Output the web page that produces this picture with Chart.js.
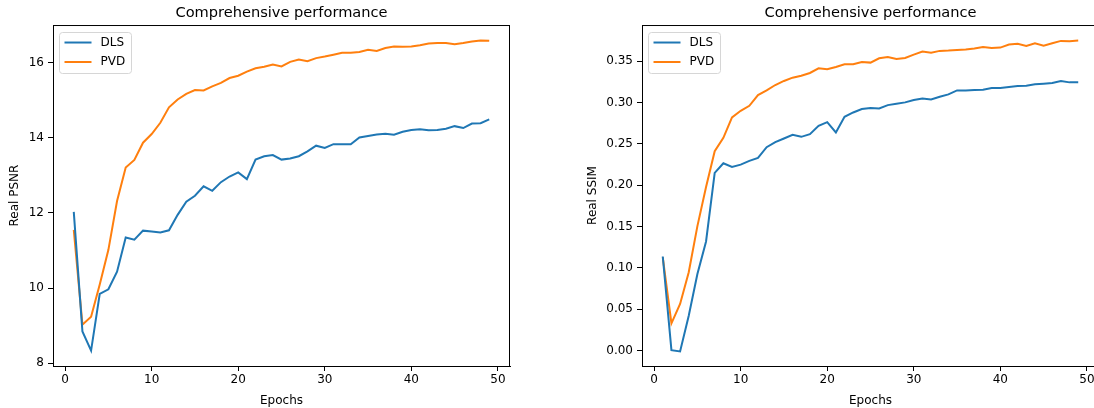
<!DOCTYPE html>
<html>
<head>
<meta charset="utf-8">
<script src="https://cdn.jsdelivr.net/npm/chart.js@4.4.1/dist/chart.umd.min.js"></script>
<style>
  body { margin: 0; background: #fff; overflow: hidden; }
  #wrap { position: relative; width: 1094px; height: 408px; overflow: hidden; }
  canvas { position: absolute; top: 0; }
</style>
</head>
<body>
<div id="wrap">
  <canvas id="psnrChart" width="547" height="408" style="left:0"></canvas>
  <canvas id="ssimChart" width="560" height="408" style="left:547px"></canvas>
</div>
<script>
// ---- data ----
const epochs = [];
for (let e = 1; e <= 49; e++) epochs.push(e);

const psnrDLS = [12.03, 8.85, 8.34, 9.85, 9.97, 10.44, 11.35, 11.29, 11.53, 11.51,
  11.48, 11.54, 11.95, 12.30, 12.46, 12.71, 12.59, 12.82, 12.97, 13.08,
  12.90, 13.42, 13.51, 13.54, 13.42, 13.45, 13.51, 13.64, 13.79, 13.73,
  13.83, 13.83, 13.83, 14.01, 14.05, 14.09, 14.11, 14.08, 14.16, 14.21,
  14.23, 14.20, 14.21, 14.24, 14.31, 14.26, 14.38, 14.39, 14.49];
const psnrPVD = [11.55, 9.03, 9.24, 10.10, 11.02, 12.32, 13.21, 13.41, 13.87, 14.10,
  14.40, 14.81, 15.02, 15.17, 15.27, 15.26, 15.37, 15.46, 15.59, 15.65,
  15.76, 15.85, 15.89, 15.95, 15.90, 16.02, 16.08, 16.04, 16.12, 16.16,
  16.21, 16.26, 16.26, 16.28, 16.34, 16.31, 16.39, 16.43, 16.42, 16.43,
  16.46, 16.51, 16.52, 16.52, 16.49, 16.52, 16.56, 16.59, 16.58];

const ssimDLS = [0.1137, 0.0004, -0.0012, 0.042, 0.0926, 0.1319, 0.2148, 0.2265, 0.2221, 0.2249,
  0.2294, 0.2330, 0.2460, 0.2520, 0.2565, 0.2609, 0.2585, 0.2617, 0.2718, 0.2763,
  0.2638, 0.2828, 0.2880, 0.2921, 0.2933, 0.2929, 0.2969, 0.2985, 0.3002, 0.3030,
  0.3050, 0.3038, 0.3070, 0.3099, 0.3147, 0.3147, 0.3151, 0.3155, 0.3176, 0.3176,
  0.3188, 0.3200, 0.3204, 0.3220, 0.3228, 0.3236, 0.3261, 0.3244, 0.3244];
const ssimPVD = [0.1125, 0.0328, 0.0562, 0.0947, 0.1505, 0.1978, 0.2411, 0.2573, 0.2820, 0.2900,
  0.2961, 0.3091, 0.3147, 0.3212, 0.3261, 0.3301, 0.3325, 0.3358, 0.3414, 0.3402,
  0.3430, 0.3463, 0.3463, 0.3491, 0.3483, 0.3536, 0.3552, 0.3528, 0.3540, 0.3580,
  0.3617, 0.3604, 0.3625, 0.3629, 0.3637, 0.3641, 0.3653, 0.3673, 0.3661, 0.3665,
  0.3701, 0.3710, 0.3685, 0.3718, 0.3689, 0.3718, 0.3746, 0.3742, 0.3750];

const xTicks = [0, 10, 20, 30, 40, 50];
const psnrTicks = [8, 10, 12, 14, 16];
const ssimTicks = [0.00, 0.05, 0.10, 0.15, 0.20, 0.25, 0.30, 0.35];

const seriesNames = ['DLS', 'PVD'];
const seriesColors = ['#1f77b4', '#ff7f0e'];

const FONT = "'DejaVu Sans', sans-serif";

// matplotlib-ish frame + legend inside the axes
const mplPlugin = {
  id: 'mpl',
  afterDraw(chart) {
    const ctx = chart.ctx;
    const a = chart.chartArea;
    ctx.save();
    ctx.strokeStyle = '#000';
    ctx.lineWidth = 1;
    ctx.beginPath();
    ctx.moveTo(a.left, a.top + 0.5);
    ctx.lineTo(a.right, a.top + 0.5);
    ctx.moveTo(a.right - 0.5, a.top);
    ctx.lineTo(a.right - 0.5, a.bottom);
    ctx.stroke();

    // legend box
    const bx = a.left + 6.5, by = a.top + 7.5, bw = 72, bh = 41, r = 3;
    ctx.beginPath();
    ctx.moveTo(bx + r, by);
    ctx.arcTo(bx + bw, by, bx + bw, by + bh, r);
    ctx.arcTo(bx + bw, by + bh, bx, by + bh, r);
    ctx.arcTo(bx, by + bh, bx, by, r);
    ctx.arcTo(bx, by, bx + bw, by, r);
    ctx.closePath();
    ctx.fillStyle = 'rgba(255,255,255,0.8)';
    ctx.fill();
    ctx.strokeStyle = '#d6d6d6';
    ctx.stroke();

    ctx.font = '12px ' + FONT;
    ctx.textBaseline = 'middle';
    chart.data.datasets.forEach((ds, i) => {
      const y = by + 10 + i * 19.5;
      ctx.strokeStyle = ds.borderColor;
      ctx.lineWidth = 2;
      ctx.beginPath();
      ctx.moveTo(bx + 5, y);
      ctx.lineTo(bx + 32, y);
      ctx.stroke();
      ctx.fillStyle = '#000';
      ctx.fillText(ds.label, bx + 41, y);
    });
    ctx.restore();
  }
};

function makeChart(canvasId, dls, pvd, yTicks, yMin, yMax, yTitle, yWidth, yTitlePad, decimals, padRight) {
  const series = [dls, pvd];
  return new Chart(document.getElementById(canvasId), {
    type: 'line',
    data: {
      datasets: series.map((vals, i) => ({
        label: seriesNames[i],
        data: epochs.map((e, k) => ({ x: e, y: vals[k] })),
        borderColor: seriesColors[i],
        backgroundColor: seriesColors[i],
        borderWidth: 2,
        pointRadius: 0,
        tension: 0,
        fill: false
      }))
    },
    options: {
      responsive: false,
      animation: false,
      devicePixelRatio: 1,
      layout: { padding: { left: 0, right: padRight, top: 0, bottom: 0 } },
      plugins: {
        legend: { display: false },
        tooltip: { enabled: false },
        title: {
          display: true,
          fullSize: false,
          text: 'Comprehensive performance',
          color: '#000',
          font: { family: FONT, size: 14.6, weight: 'normal', lineHeight: 1.2 },
          padding: { top: 4, bottom: 3.5 }
        }
      },
      scales: {
        x: {
          type: 'linear',
          min: -1.4,
          max: 51.4,
          afterFit: s => { s.height = 42; },
          afterBuildTicks: s => { s.ticks = xTicks.map(v => ({ value: v })); },
          ticks: {
            color: '#000',
            font: { family: FONT, size: 12 },
            padding: 2,
            maxRotation: 0,
            callback: v => String(v)
          },
          grid: { drawOnChartArea: false, drawTicks: true, tickLength: 5, color: '#000' },
          border: { display: true, color: '#000', width: 1 },
          title: {
            display: true,
            text: 'Epochs',
            color: '#000',
            font: { family: FONT, size: 12, lineHeight: 1.2 },
            padding: { top: 2, bottom: 0 }
          }
        },
        y: {
          type: 'linear',
          min: yMin,
          max: yMax,
          afterFit: s => { s.width = yWidth; },
          afterBuildTicks: s => { s.ticks = yTicks.map(v => ({ value: v })); },
          ticks: {
            color: '#000',
            font: { family: FONT, size: 12 },
            padding: 4,
            callback: v => v.toFixed(decimals)
          },
          grid: { drawOnChartArea: false, drawTicks: true, tickLength: 5, color: '#000' },
          border: { display: true, color: '#000', width: 1 },
          title: {
            display: true,
            text: yTitle,
            color: '#000',
            font: { family: FONT, size: 12, lineHeight: 1.2 },
            padding: { top: yTitlePad, bottom: 0 }
          }
        }
      }
    },
    plugins: [mplPlugin]
  });
}

makeChart('psnrChart', psnrDLS, psnrPVD, psnrTicks, 7.93, 17.0, 'Real PSNR', 53, 7.8, 0, 37);
makeChart('ssimChart', ssimDLS, ssimPVD, ssimTicks, -0.0188, 0.3938, 'Real SSIM', 95, 38.8, 2, 8);
</script>
</body>
</html>
